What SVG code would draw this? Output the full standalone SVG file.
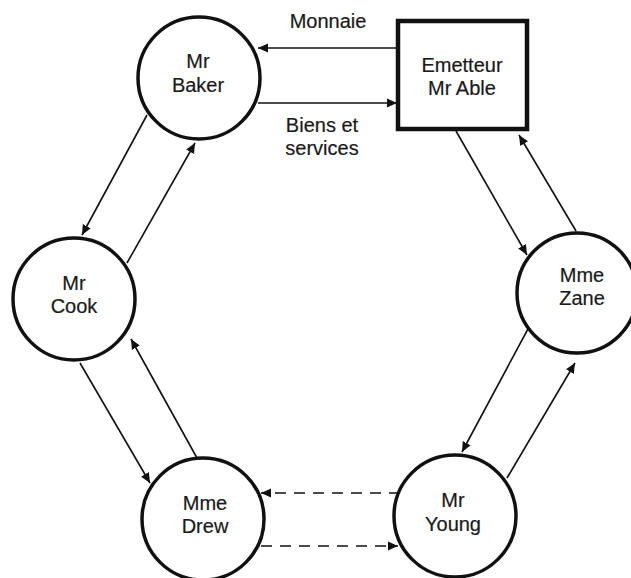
<svg xmlns="http://www.w3.org/2000/svg" width="631" height="578" viewBox="0 0 631 578">
<defs>
<marker id="ah" viewBox="0 0 10 10" refX="10" refY="5" markerWidth="10" markerHeight="10" markerUnits="userSpaceOnUse" orient="auto">
<path d="M0,0.5 L10,5 L0,9.5 Z" fill="#111"/>
</marker>
<style>
.node{fill:#fff;stroke:#111;stroke-width:3.5}
.box{fill:#fff;stroke:#111;stroke-width:4.5}
.t{font-family:"Liberation Sans",Arial,sans-serif;font-size:20px;fill:#1a1a1a;text-anchor:middle;stroke:#1a1a1a;stroke-width:0.2}
.c{stroke:#111;stroke-width:1.6;fill:none;marker-end:url(#ah)}
.d{stroke-dasharray:11,8}
</style>
</defs>
<rect width="631" height="578" fill="#fff"/>
<g id="connectors">
<line class="c" x1="397" y1="48" x2="258" y2="48"/>
<line class="c" x1="258" y1="103" x2="397" y2="103"/>
<line class="c" x1="147" y1="115" x2="82" y2="235"/>
<line class="c" x1="127" y1="263" x2="195" y2="143"/>
<line class="c" x1="456" y1="131" x2="527" y2="255"/>
<line class="c" x1="576" y1="231" x2="519" y2="135"/>
<line class="c" x1="80" y1="363" x2="150" y2="483"/>
<line class="c" x1="197" y1="458" x2="131" y2="339"/>
<line class="c" x1="529" y1="327" x2="462" y2="452"/>
<line class="c" x1="507" y1="478" x2="575" y2="363"/>
<line class="c d" x1="400" y1="493" x2="261" y2="493"/>
<line class="c d" x1="261" y1="546" x2="398" y2="546"/>
</g>
<g id="label-monnaie"><text class="t" x="328" y="28">Monnaie</text></g>
<g id="label-biens"><text class="t" x="322" y="132">Biens et</text><text class="t" x="322" y="155">services</text></g>
<g id="emetteur">
<rect class="box" x="398" y="21" width="129" height="108"/>
<text class="t" x="462" y="72">Emetteur</text>
<text class="t" x="462" y="95">Mr Able</text>
</g>
<g id="baker">
<circle class="node" cx="199" cy="78" r="61"/>
<text class="t" x="198" y="68">Mr</text>
<text class="t" x="198" y="92">Baker</text>
</g>
<g id="cook">
<circle class="node" cx="74" cy="299" r="61"/>
<text class="t" x="74" y="290">Mr</text>
<text class="t" x="74" y="313">Cook</text>
</g>
<g id="zane">
<circle class="node" cx="577" cy="293" r="60"/>
<text class="t" x="582" y="282">Mme</text>
<text class="t" x="582" y="305">Zane</text>
</g>
<g id="drew">
<circle class="node" cx="203" cy="519" r="61"/>
<text class="t" x="205" y="510">Mme</text>
<text class="t" x="205" y="533">Drew</text>
</g>
<g id="young">
<circle class="node" cx="455" cy="516" r="61"/>
<text class="t" x="453" y="507">Mr</text>
<text class="t" x="453" y="531">Young</text>
</g>
</svg>
